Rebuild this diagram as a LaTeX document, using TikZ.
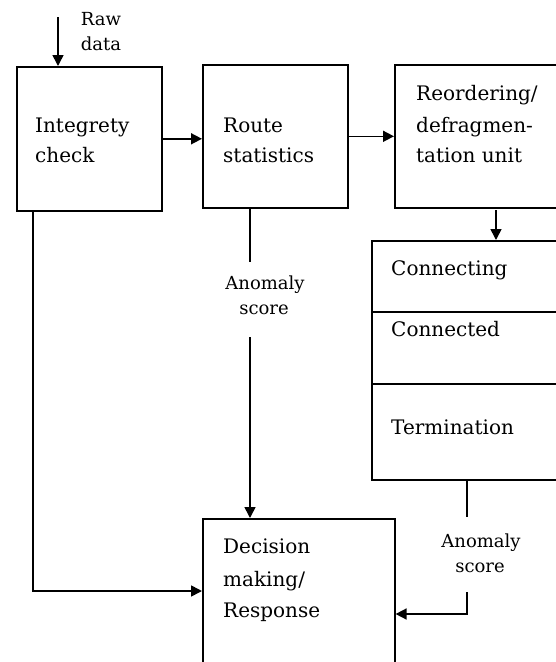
\documentclass[tikz,border=0pt]{standalone}
\usepackage{fontspec}
\setmainfont{DejaVu Serif}
\usetikzlibrary{arrows.meta}
\begin{document}
\begin{tikzpicture}[x=1pt,y=-1pt,
  box/.style={draw, line width=1.6pt, rectangle, inner sep=0pt, anchor=north west},
  lbl/.style={anchor=base west, inner sep=0pt, font=\fontsize{20}{24}\selectfont},
  small/.style={anchor=base, inner sep=0pt, font=\fontsize{18}{21}\selectfont},
  conn/.style={line width=1.6pt},
  arr/.style={conn, -{Triangle[length=11pt,width=11pt]}}]
\useasboundingbox (0,0) rectangle (556,662);
\clip (0,0) rectangle (556,662);
% boxes
\node[box, minimum width=145pt, minimum height=144pt] (integ) at (16,66) {};
\node[box, minimum width=145pt, minimum height=143pt] (route) at (202,64) {};
\node[box, minimum width=200pt, minimum height=143pt] (reorder) at (394,64) {};
\node[box, minimum width=220pt, minimum height=239pt] (state) at (371,240) {};
\node[box, minimum width=192pt, minimum height=180pt] (dec) at (202,518) {};
\draw[conn] (state.west |- 0,312) -- (600,312);
\draw[conn] (state.west |- 0,384) -- (600,384);
% texts
\node[lbl] (t1) at (35,132) {Integrety};
\node[lbl] (t2) at (35,162) {check};
\node[lbl] (t3) at (223,132) {Route};
\node[lbl] (t4) at (223,162) {statistics};
\node[lbl] (t5) at (416,100) {Reordering/};
\node[lbl] (t6) at (416,132) {defragmen-};
\node[lbl] (t7) at (416,162) {tation unit};
\node[lbl] (t8) at (391,275) {Connecting};
\node[lbl] (t9) at (391,336) {Connected};
\node[lbl] (t10) at (391,434) {Termination};
\node[lbl] (t11) at (223,553) {Decision};
\node[lbl] (t12) at (223,586) {making/};
\node[lbl] (t13) at (223,617) {Response};
\node[small] (raw1) at (101,25) {Raw};
\node[small] (raw2) at (101,50) {data};
\node[small] (am1) at (265,289) {Anomaly};
\node[small] (am2) at (264,314) {score};
\node[small] (an1) at (481,547) {Anomaly};
\node[small] (an2) at (480,572) {score};
% coordinates
\coordinate (rawtop) at (58,17);
\coordinate (xr) at (496,0);
\coordinate (xm) at (250,0);
\coordinate (xl) at (33,0);
\coordinate (xs) at (467,0);
\coordinate (m1) at (250,262);
\coordinate (m2) at (250,337);
\coordinate (s1) at (467,517);
\coordinate (s2) at (467,592);
% connectors
\draw[arr] (rawtop) -- (rawtop |- integ.north);
\draw[arr] (integ.east) -- (integ.east -| route.west);
\draw[arr] (route.east) -- (route.east -| reorder.west);
\draw[arr] (xr |- 0,210) -- (xr |- state.north);
\draw[conn] (xm |- route.south) -- (m1);
\draw[arr] (m2) -- (xm |- dec.north);
\draw[arr] (xl |- integ.south) |- (dec.west |- 0,591);
\draw[conn] (xs |- state.south) -- (s1);
\draw[arr] (s2) |- (dec.east |- 0,614);
\end{tikzpicture}
\end{document}
